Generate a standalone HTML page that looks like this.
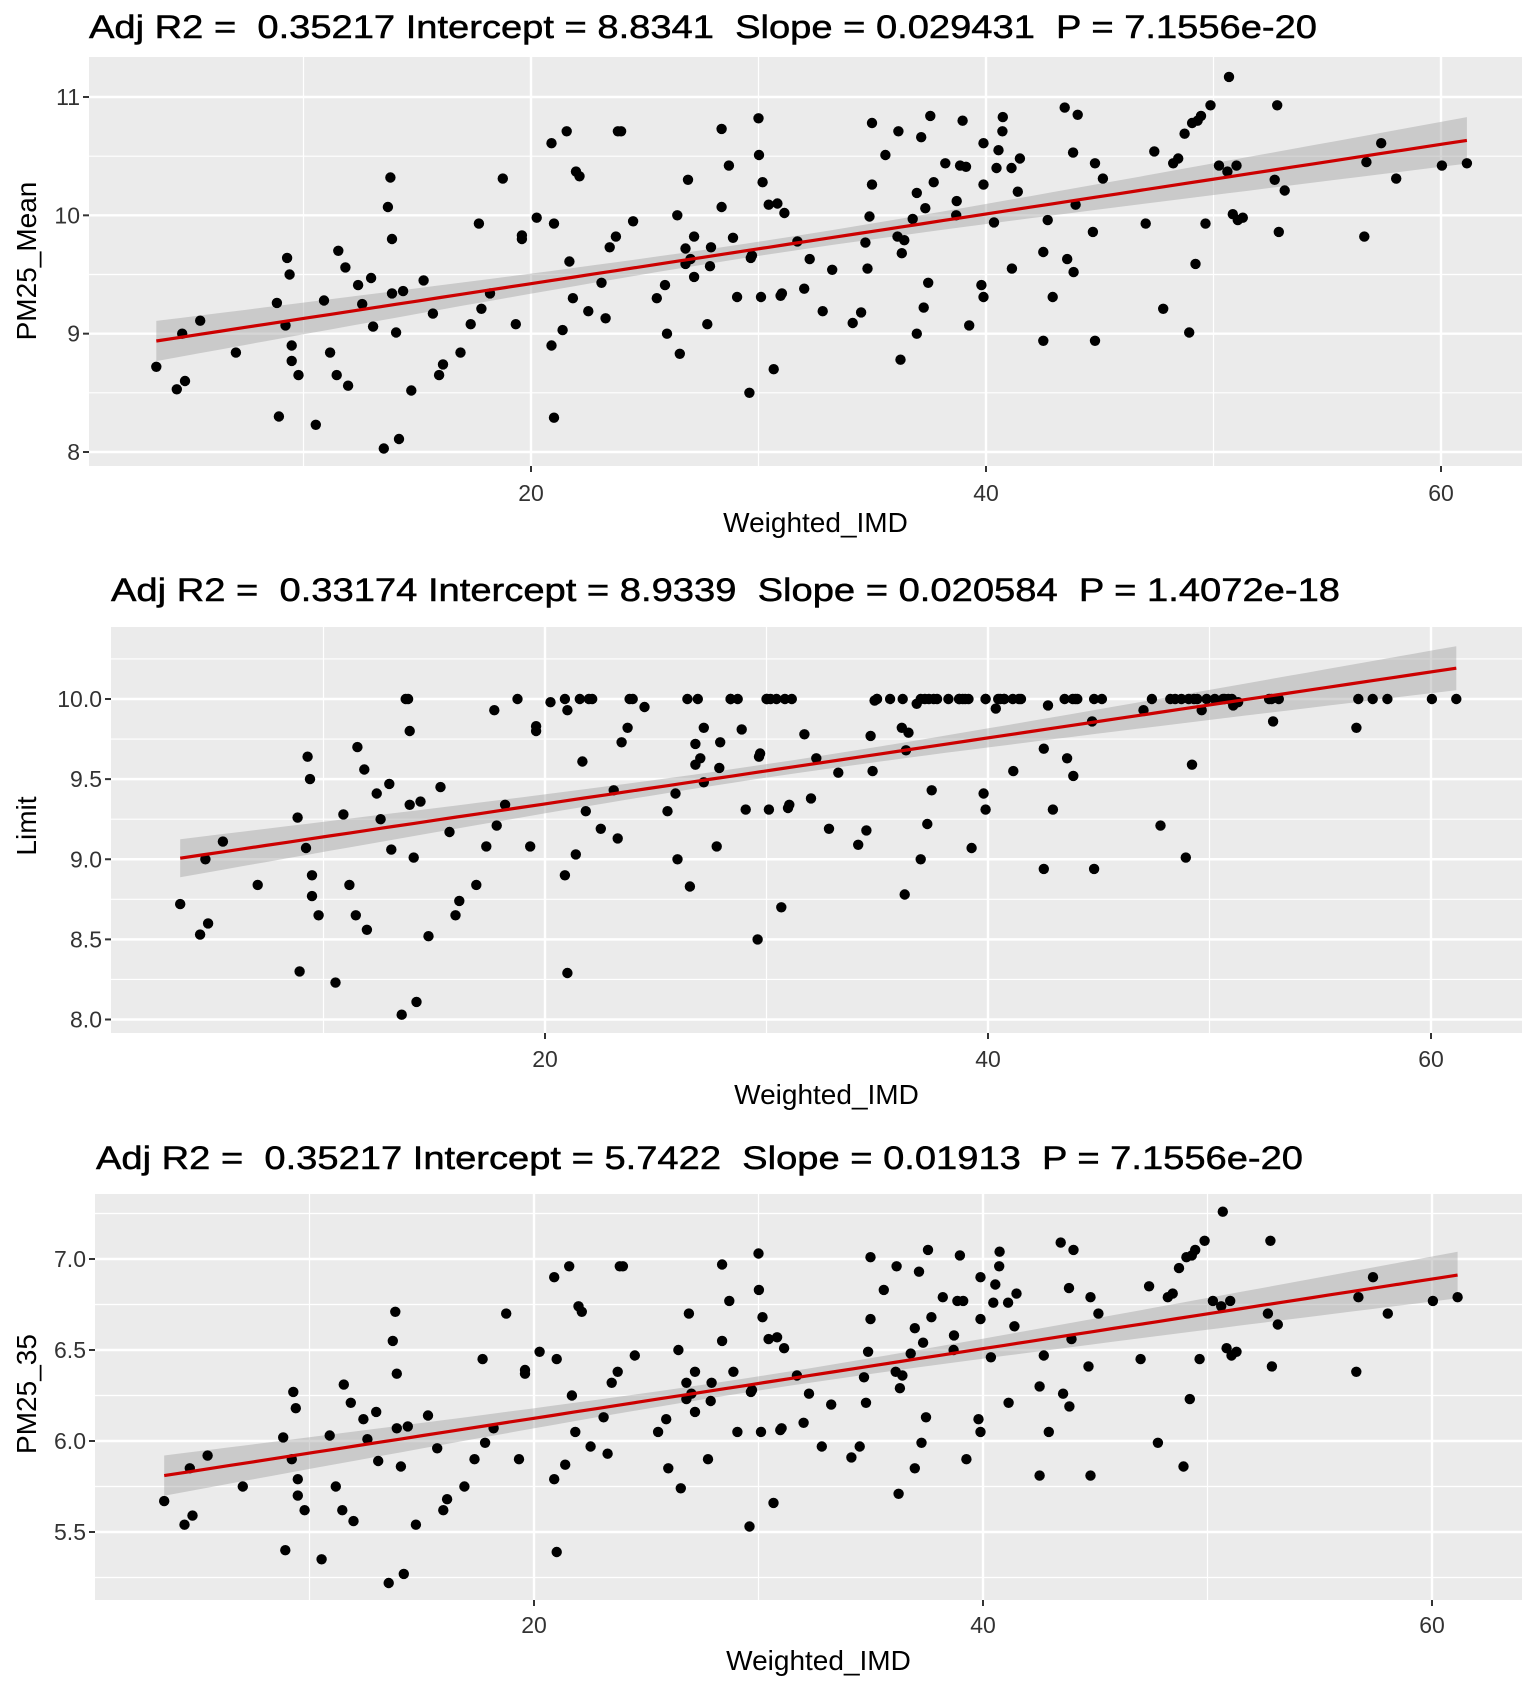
<!DOCTYPE html>
<html><head><meta charset="utf-8"><style>
html,body{margin:0;padding:0;background:#fff;}
svg{display:block;font-family:"Liberation Sans",sans-serif;}
text{white-space:pre;}
</style></head><body>
<svg id="chart" width="1535" height="1689" viewBox="0 0 1535 1689" xmlns="http://www.w3.org/2000/svg" xml:space="preserve"></svg>
<script>
// shared x values (Weighted_IMD)
const imd = [3.53,4.43,4.79,4.67,5.46,7.03,8.83,8.92,9.21,9.28,9.39,9.48,9.48,9.78,10.54,10.90,11.17,11.46,11.53,11.84,11.96,12.40,12.58,12.97,13.06,13.53,13.71,13.82,13.89,13.89,14.07,14.20,14.38,14.74,15.28,15.69,15.96,16.13,16.90,17.35,17.71,17.82,18.20,18.76,19.33,19.60,19.60,20.25,20.90,20.90,21.01,21.01,21.39,21.57,21.69,21.84,21.98,22.13,22.52,23.10,23.28,23.46,23.73,23.82,23.96,24.49,25.53,25.89,25.98,26.43,26.54,26.79,26.90,26.79,27.01,27.17,27.17,27.75,27.87,27.91,28.38,28.38,28.70,28.88,29.06,29.60,29.71,29.66,30.00,30.02,30.11,30.18,30.45,30.67,30.83,30.97,31.14,31.03,31.71,32.01,32.25,32.82,33.24,34.14,34.51,34.70,34.79,34.88,34.99,34.99,35.58,36.11,36.15,36.24,36.30,36.41,36.78,36.96,36.96,37.15,37.26,37.33,37.46,37.55,37.70,38.21,38.71,38.69,38.86,38.97,39.12,39.26,39.80,39.89,39.89,39.89,40.35,40.55,40.46,40.72,40.74,41.12,41.14,41.40,41.49,42.52,42.52,42.71,42.93,43.46,43.57,43.83,43.85,43.94,44.03,44.70,44.79,44.79,45.14,47.02,47.40,47.79,48.23,48.45,48.73,48.93,49.06,49.21,49.30,49.45,49.65,49.87,50.24,50.68,50.61,50.85,51.01,51.07,51.29,52.69,52.80,52.87,53.13,56.63,56.72,57.37,58.03,60.04,61.14];
const pm25Mean = [8.72,8.53,8.60,9.00,9.11,8.84,9.26,8.30,9.07,9.64,9.50,8.90,8.77,8.65,8.23,9.28,8.84,8.65,9.70,9.56,8.56,9.41,9.25,9.47,9.06,8.03,10.07,10.32,9.80,9.34,9.01,8.11,9.36,8.52,9.45,9.17,8.65,8.74,8.84,9.08,9.93,9.21,9.34,10.31,9.08,9.83,9.80,9.98,10.61,8.90,9.93,8.29,9.03,10.71,9.61,9.30,10.37,10.33,9.19,9.43,9.13,9.73,9.82,10.71,10.71,9.95,9.30,9.41,9.00,10.00,8.83,9.72,10.30,9.59,9.63,9.48,9.82,9.08,9.57,9.73,10.73,10.07,10.42,9.81,9.31,8.50,9.66,9.64,10.82,10.51,9.31,10.28,10.09,8.70,10.10,9.32,10.02,9.34,9.78,9.38,9.63,9.19,9.54,9.09,9.18,9.77,9.55,9.99,10.26,10.78,10.51,9.82,10.71,8.78,9.68,9.79,9.97,10.19,9.00,10.66,9.22,10.06,9.43,10.84,10.28,10.44,10.12,10.00,10.42,10.80,10.41,9.07,9.41,9.31,10.61,10.26,9.94,10.55,10.40,10.71,10.83,10.40,9.55,10.20,10.48,9.69,8.94,9.96,9.31,10.91,9.63,10.53,9.52,10.09,10.85,9.86,10.44,8.94,10.31,9.93,10.54,9.21,10.44,10.48,10.69,9.01,10.78,9.59,10.80,10.84,9.93,10.93,10.42,11.17,10.37,10.01,10.42,9.96,9.98,10.30,10.93,9.86,10.21,9.82,10.45,10.61,10.31,10.42,10.44];
const limitVals = [8.72,8.53,8.60,9.00,9.11,8.84,9.26,8.30,9.07,9.64,9.50,8.90,8.77,8.65,8.23,9.28,8.84,8.65,9.70,9.56,8.56,9.41,9.25,9.47,9.06,8.03,10,10,9.80,9.34,9.01,8.11,9.36,8.52,9.45,9.17,8.65,8.74,8.84,9.08,9.93,9.21,9.34,10,9.08,9.83,9.80,9.98,10,8.90,9.93,8.29,9.03,10,9.61,9.30,10,10,9.19,9.43,9.13,9.73,9.82,10,10,9.95,9.30,9.41,9.00,10,8.83,9.72,10,9.59,9.63,9.48,9.82,9.08,9.57,9.73,10,10,10,9.81,9.31,8.50,9.66,9.64,10,10,9.31,10,10,8.70,10,9.32,10,9.34,9.78,9.38,9.63,9.19,9.54,9.09,9.18,9.77,9.55,9.99,10,10,10,9.82,10,8.78,9.68,9.79,9.97,10,9.00,10,9.22,10,9.43,10,10,10,10,10,10,10,10,9.07,9.41,9.31,10,10,9.94,10,10,10,10,10,9.55,10,10,9.69,8.94,9.96,9.31,10,9.63,10,9.52,10,10,9.86,10,8.94,10,9.93,10,9.21,10,10,10,9.01,10,9.59,10,10,9.93,10,10,10,10,10,10,9.96,9.98,10,10,9.86,10,9.82,10,10,10,10,10];
const pm2535 = [5.67,5.54,5.59,5.85,5.92,5.75,6.02,5.40,5.90,6.27,6.18,5.79,5.70,5.62,5.35,6.03,5.75,5.62,6.31,6.21,5.56,6.12,6.01,6.16,5.89,5.22,6.55,6.71,6.37,6.07,5.86,5.27,6.08,5.54,6.14,5.96,5.62,5.68,5.75,5.90,6.45,5.99,6.07,6.70,5.90,6.39,6.37,6.49,6.90,5.79,6.45,5.39,5.87,6.96,6.25,6.05,6.74,6.71,5.97,6.13,5.93,6.32,6.38,6.96,6.96,6.47,6.05,6.12,5.85,6.50,5.74,6.32,6.70,6.23,6.26,6.16,6.38,5.90,6.22,6.32,6.97,6.55,6.77,6.38,6.05,5.53,6.28,6.27,7.03,6.83,6.05,6.68,6.56,5.66,6.57,6.06,6.51,6.07,6.36,6.10,6.26,5.97,6.20,5.91,5.97,6.35,6.21,6.49,6.67,7.01,6.83,6.38,6.96,5.71,6.29,6.36,6.48,6.62,5.85,6.93,5.99,6.54,6.13,7.05,6.68,6.79,6.58,6.50,6.77,7.02,6.77,5.90,6.12,6.05,6.90,6.67,6.46,6.86,6.76,6.96,7.04,6.76,6.21,6.63,6.81,6.30,5.81,6.47,6.05,7.09,6.26,6.84,6.19,6.56,7.05,6.41,6.79,5.81,6.70,6.45,6.85,5.99,6.79,6.81,6.95,5.86,7.01,6.23,7.02,7.05,6.45,7.10,6.77,7.26,6.74,6.51,6.77,6.47,6.49,6.70,7.10,6.41,6.64,6.38,6.79,6.90,6.70,6.77,6.79];
// fit parameters (from titles)
const intercepts = [8.8341, 8.9339, 5.7422];
const slopes = [0.029431, 0.020584, 0.01913];
const titles = [
 "Adj R2 =  0.35217 Intercept = 8.8341  Slope = 0.029431  P = 7.1556e-20",
 "Adj R2 =  0.33174 Intercept = 8.9339  Slope = 0.020584  P = 1.4072e-18",
 "Adj R2 =  0.35217 Intercept = 5.7422  Slope = 0.01913  P = 7.1556e-20"];
const yTitles = ["PM25_Mean","Limit","PM25_35"];
const xTicks = [20,40,60];
const xMinor = [10,30,50];
const yTicks1 = [8,9,10,11], yTickLab1 = ["8","9","10","11"], yMinor1 = [7.5,8.5,9.5,10.5];
const yTicks2 = [8,8.5,9,9.5,10], yTickLab2 = ["8.0","8.5","9.0","9.5","10.0"], yMinor2 = [8.25,8.75,9.25,9.75,10.25];
const yTicks3 = [5.5,6,6.5,7], yTickLab3 = ["5.5","6.0","6.5","7.0"], yMinor3 = [5.25,5.75,6.25,6.75,7.25];
const bandMid = [0.06, 0.042, 0.039];
const bandSlope = [0.006, 0.0042, 0.0039];

const NS = "http://www.w3.org/2000/svg";
const svg = document.getElementById('chart');
function mk(tag, attrs, parent){const e=document.createElementNS(NS,tag);for(const k in attrs)e.setAttribute(k,attrs[k]);(parent||svg).appendChild(e);return e;}

const panels = [
 {L:89,R:1522,T:57,B:466, x20:531,x40:986, yA:11,pA:97,yB:8,pB:452, ys:pm25Mean, yt:yTicks1, yl:yTickLab1, ym:yMinor1, tx:89,ty:38,tw:1228, xly:532, tly:501, yty:261},
 {L:111,R:1522,T:627,B:1033, x20:545,x40:988, yA:10,pA:699,yB:8,pB:1019.5, ys:limitVals, yt:yTicks2, yl:yTickLab2, ym:yMinor2, tx:111,ty:601,tw:1229, xly:1104, tly:1067, yty:826},
 {L:95,R:1522,T:1194,B:1600, x20:534,x40:983, yA:7,pA:1259,yB:5.5,pB:1532, ys:pm2535, yt:yTicks3, yl:yTickLab3, ym:yMinor3, tx:96,ty:1169,tw:1207, xly:1670, tly:1633, yty:1394}
];

panels.forEach((p,i)=>{
  const g = mk('g',{});
  
  
  const kx = (p.x40-p.x20)/20;
  const X = v => p.x20 + (v-20)*kx;
  const ky = (p.pB-p.pA)/(p.yB-p.yA);
  const Y = v => p.pA + (v-p.yA)*ky;
  const t = mk('text',{x:p.tx,y:p.ty,'font-size':32,fill:'#000',stroke:'#000','stroke-width':0.5,textLength:p.tw,lengthAdjust:'spacingAndGlyphs'},g);
  t.textContent = titles[i];
  
  
  const bg = mk('rect',{x:p.L,y:p.T,width:p.R-p.L,height:p.B-p.T,fill:'#ebebeb'},g);
  
  
  p.ym.forEach(v=>{const yy=Y(v); if(yy>p.T&&yy<p.B){const l=mk('line',{x1:p.L,x2:p.R,y1:yy,y2:yy,stroke:'#fff','stroke-width':1.2},g);}});
  xMinor.forEach(v=>{const l=mk('line',{x1:X(v),x2:X(v),y1:p.T,y2:p.B,stroke:'#fff','stroke-width':1.2},g);});
  p.yt.forEach((v,j)=>{const yy=Y(v);
    const l=mk('line',{x1:p.L,x2:p.R,y1:yy,y2:yy,stroke:'#fff','stroke-width':2.4},g);
    mk('line',{x1:p.L-6,x2:p.L,y1:yy,y2:yy,stroke:'#333','stroke-width':2},g);
    const tl=mk('text',{x:p.L-9,y:yy+8,'font-size':23,fill:'#333','text-anchor':'end'},g);tl.textContent=p.yl[j];});
  xTicks.forEach(v=>{const xx=X(v);
    const l=mk('line',{x1:xx,x2:xx,y1:p.T,y2:p.B,stroke:'#fff','stroke-width':2.4},g);
    mk('line',{x1:xx,x2:xx,y1:p.B,y2:p.B+6,stroke:'#333','stroke-width':2},g);
    const tl=mk('text',{x:xx,y:p.tly,'font-size':23,fill:'#333','text-anchor':'middle'},g);tl.textContent=String(v);});
  const xmin=Math.min(...imd), xmax=Math.max(...imd);
  let up=[],dn=[],ln=[];
  for(let s=0;s<=60;s++){const xv=xmin+(xmax-xmin)*s/60;const yv=intercepts[i]+slopes[i]*xv;const hw=Math.sqrt(bandMid[i]**2+(bandSlope[i]*(xv-30))**2);
    up.push(X(xv).toFixed(1)+','+Y(yv+hw).toFixed(1));dn.unshift(X(xv).toFixed(1)+','+Y(yv-hw).toFixed(1));ln.push(X(xv).toFixed(1)+','+Y(yv).toFixed(1));}
  const band=mk('polygon',{points:up.concat(dn).join(' '),fill:'#999','fill-opacity':0.4},g);
  
  
  imd.forEach((xv,j)=>{const c=mk('circle',{cx:X(xv).toFixed(1),cy:Y(p.ys[j]).toFixed(1),r:5.2,fill:'#000'},g);
    
    });
  const fl=mk('polyline',{points:ln.join(' '),fill:'none',stroke:'#cc0000','stroke-width':3.2},g);
  
  
  const xl=mk('text',{x:(p.L+p.R)/2+10,y:p.xly,'font-size':28,fill:'#000','text-anchor':'middle'},g);
  xl.textContent='Weighted_IMD';
  
  
  const yl=mk('text',{x:0,y:0,'font-size':28,fill:'#000','text-anchor':'middle',transform:'translate(36,'+p.yty+') rotate(-90)'},g);
  yl.textContent=yTitles[i];
  
  
});
</script>
</body></html>
